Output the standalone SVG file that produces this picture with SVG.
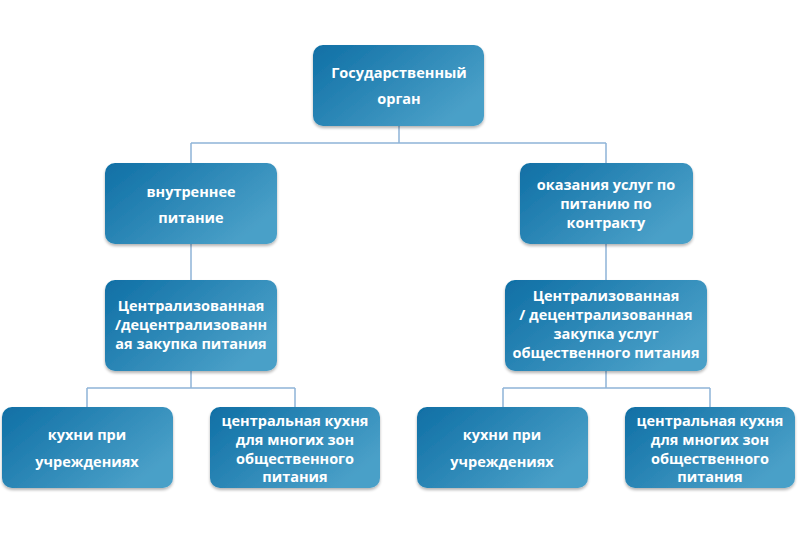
<svg xmlns="http://www.w3.org/2000/svg" width="800" height="534" viewBox="0 0 800 534">
<defs>
<linearGradient id="g" x1="0" y1="0" x2="1" y2="0.6">
<stop offset="0" stop-color="#0f6fa5"/>
<stop offset="1" stop-color="#4aa0c8"/>
</linearGradient>
<filter id="sh" x="-10%" y="-10%" width="120%" height="130%">
<feGaussianBlur in="SourceAlpha" stdDeviation="1.5"/>
<feOffset dx="0" dy="1.5"/>
<feComponentTransfer><feFuncA type="linear" slope="0.3"/></feComponentTransfer>
<feMerge><feMergeNode/><feMergeNode in="SourceGraphic"/></feMerge>
</filter>
</defs>
<style>
.box{fill:url(#g);filter:url(#sh);}
.t{font-family:"Open Sans","Liberation Sans",sans-serif;font-weight:bold;font-size:14.5px;fill:#ffffff;text-anchor:middle;}
.c{fill:none;stroke:#8fb4d8;stroke-width:1.5;}
</style>
<rect width="800" height="534" fill="#ffffff"/>
<g id="connectors">
<path class="c" d="M399 126 V143 M191 143 H606 M191 143 V163 M606 143 V163"/>
<path class="c" d="M191 244 V280 M606 244 V280"/>
<path class="c" d="M191 371 V388 M87 388 H295 M87 388 V407 M295 388 V407"/>
<path class="c" d="M606 371 V388 M503 388 H710 M503 388 V407 M710 388 V407"/>
</g>
<g id="n1"><rect class="box" x="313" y="45" width="171" height="81" rx="10"/>
<text class="t" x="399" y="78">Государственный</text><text class="t" x="399" y="104">орган</text></g>
<g id="n2"><rect class="box" x="105" y="163" width="172" height="81" rx="10"/>
<text class="t" x="191" y="197">внутреннее</text><text class="t" x="191" y="223">питание</text></g>
<g id="n3"><rect class="box" x="520" y="163" width="173" height="81" rx="10"/>
<text class="t" x="606" y="190">оказания услуг по</text><text class="t" x="606" y="209">питанию по</text><text class="t" x="606" y="228">контракту</text></g>
<g id="n4"><rect class="box" x="105" y="280" width="172" height="91" rx="10"/>
<text class="t" x="191" y="311">Централизованная</text><text class="t" x="191" y="330">/децентрализованн</text><text class="t" x="191" y="349">ая закупка питания</text></g>
<g id="n5"><rect class="box" x="505" y="280" width="202" height="91" rx="10"/>
<text class="t" x="606" y="301">Централизованная</text><text class="t" x="606" y="320">/ децентрализованная</text><text class="t" x="606" y="339">закупка услуг</text><text class="t" x="606" y="358">общественного питания</text></g>
<g id="n6"><rect class="box" x="2" y="407" width="171" height="81" rx="10"/>
<text class="t" x="87" y="440">кухни при</text><text class="t" x="87" y="467">учреждениях</text></g>
<g id="n7"><rect class="box" x="210" y="407" width="170" height="81" rx="10"/>
<text class="t" x="295" y="426">центральная кухня</text><text class="t" x="295" y="445">для многих зон</text><text class="t" x="295" y="464">общественного</text><text class="t" x="295" y="482">питания</text></g>
<g id="n8"><rect class="box" x="417" y="407" width="171" height="81" rx="10"/>
<text class="t" x="502" y="440">кухни при</text><text class="t" x="502" y="467">учреждениях</text></g>
<g id="n9"><rect class="box" x="625" y="407" width="170" height="81" rx="10"/>
<text class="t" x="710" y="426">центральная кухня</text><text class="t" x="710" y="445">для многих зон</text><text class="t" x="710" y="464">общественного</text><text class="t" x="710" y="482">питания</text></g>
</svg>
